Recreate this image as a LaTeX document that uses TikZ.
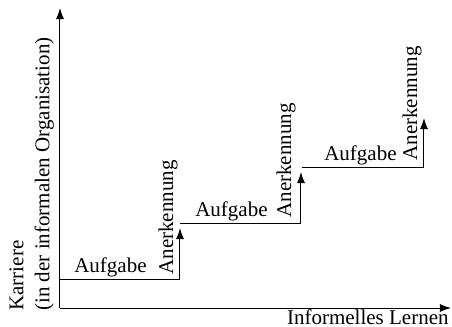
\documentclass[tikz,border=0pt]{standalone}
\usepackage{fontspec}
\setmainfont{Liberation Serif}
\usepackage{tikz}
\usetikzlibrary{arrows.meta,positioning,calc}

\begin{document}
\begin{tikzpicture}[
    x=0.5pt, y=-0.5pt,
    lbl/.style={inner sep=0pt, font=\fontsize{10.5pt}{13pt}\selectfont},
    vlbl/.style={lbl, rotate=90, anchor=south west},
    axis/.style={-{Latex[length=5.5pt,width=4pt]}, line width=0.5pt},
    arrow/.style={-{Latex[length=5.5pt,width=4pt]}, line width=0.5pt},
    stepline/.style={line width=0.5pt}
]
\useasboundingbox (0,0) rectangle (452,327);

% axes
\coordinate (O) at (60,308);
\coordinate (ytop) at (60,8);
\coordinate (xend) at (451,308);
\draw[axis] (O) -- (ytop);
\draw[axis] (O) -- (xend);
\node[lbl, anchor=north east] (xlabel) at (449,309) {Informelles Lernen};
\node[lbl, rotate=90, anchor=north west, align=left] (ylabel) at (9,311)
    {Karriere\\(in der informalen Organisation)};

% steps
\coordinate (s1a) at (60,279);
\coordinate (s1b) at (180,279);
\coordinate (t1) at (180,228);
\coordinate (s2a) at (180,223);
\coordinate (s2b) at (301,223);
\coordinate (t2) at (301,172);
\coordinate (s3a) at (302,167);
\coordinate (s3b) at (424,167);
\coordinate (t3) at (424,118);

\draw[stepline] (s1a) -- (s1b);
\draw[arrow] (s1b) -- (t1);
\draw[stepline] (s2a) -- (s2b);
\draw[arrow] (s2b) -- (t2);
\draw[stepline] (s3a) -- (s3b);
\draw[arrow] (s3b) -- (t3);

\node[lbl, anchor=south east] (task1) at ([shift={(-33,-2)}]s1b) {Aufgabe};
\node[lbl, anchor=south east] (task2) at ([shift={(-33,-2)}]s2b) {Aufgabe};
\node[lbl, anchor=south east] (task3) at ([shift={(-27,-2)}]s3b) {Aufgabe};

\node[vlbl] (ack1) at ([shift={(-2,-4)}]s1b) {Anerkennung};
\node[vlbl] (ack2) at ([shift={(-5,-5)}]s2b) {Anerkennung};
\node[vlbl] (ack3) at ([shift={(-2,-6)}]s3b) {Anerkennung};
\end{tikzpicture}
\end{document}
